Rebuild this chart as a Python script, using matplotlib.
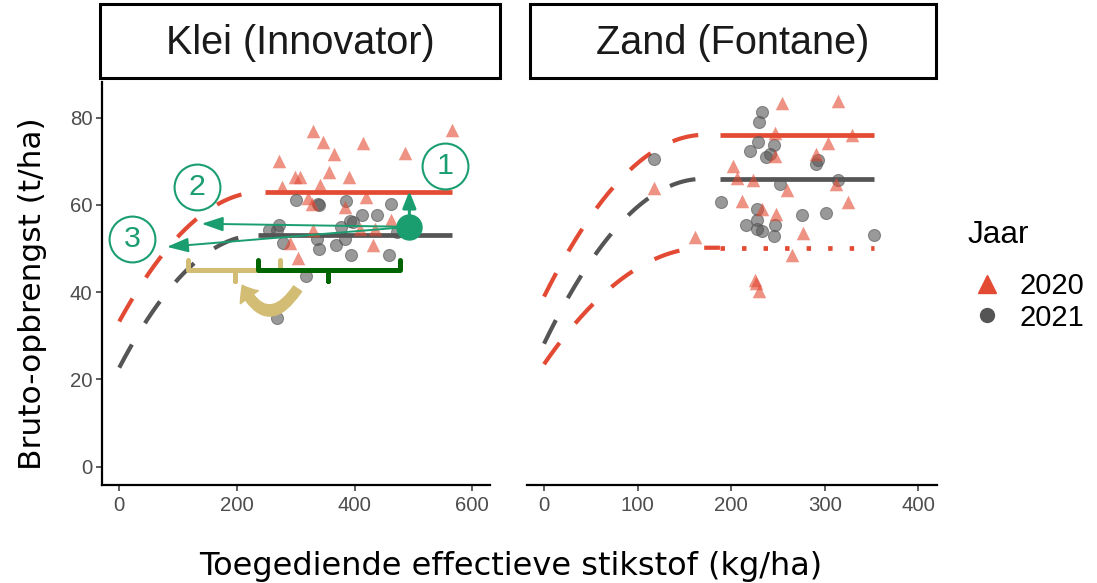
import numpy as np
import matplotlib
matplotlib.use("Agg")
import matplotlib.pyplot as plt
from matplotlib import font_manager
from matplotlib.lines import Line2D
from matplotlib.patches import Rectangle

# ---------------- data ----------------
panels = ["Klei (Innovator)", "Zand (Fontane)"]

klei_2020_x = [329, 566, 346, 415, 365, 486, 271, 357, 298, 307.5, 391, 277, 341.5, 320.5,
               327, 418.5, 383, 462, 329, 409.5, 435, 290.5, 431, 303.5]
klei_2020_y = [76.9, 77.1, 74.5, 74.3, 71.8, 72.0, 70.1, 67.6, 66.5, 66.4, 66.4, 64.1, 64.5, 61.6,
               60.3, 61.8, 59.6, 56.5, 54.2, 54.4, 54.4, 51.2, 50.9, 47.9]
klei_2021_x = [300, 337.5, 340, 385.7, 462, 412, 438, 392.5, 397, 272, 255, 377, 268, 336, 383,
               279, 368.7, 338.6, 393.7, 459, 472, 317, 268]
klei_2021_y = [61.1, 60.3, 60.0, 60.9, 60.2, 57.7, 57.7, 56.3, 56.0, 55.4, 54.2, 55.0, 54.2, 52.2, 52.2,
               51.2, 50.9, 49.9, 48.6, 48.6, 53.8, 43.7, 34.1]

zand_2020_x = [254.6, 314.4, 246.8, 328.7, 303.7, 246.8, 290.3, 202.4, 206.6, 223.7, 117.7, 259.3,
               312, 211.3, 325, 233.3, 247.6, 276.4, 161.5, 265, 225.8, 227, 229.4]
zand_2020_y = [83.3, 83.9, 76.4, 76.0, 74.2, 71.2, 71.6, 68.9, 66.3, 65.8, 63.8, 63.5,
               64.7, 60.9, 60.7, 59.0, 58.0, 53.6, 52.7, 48.5, 42.8, 42.0, 40.3]
zand_2021_x = [233, 230, 229, 246, 219.8, 237.2, 241.5, 292.4, 290.6, 118, 314.4, 252, 189.5,
               227.3, 227.3, 215.6, 246.8, 275.3, 301.3, 227.3, 233.3, 246.1, 352.8]
zand_2021_y = [81.3, 79.0, 74.5, 73.8, 72.3, 71.0, 71.8, 70.4, 69.3, 70.6, 65.8, 64.8, 60.7,
               59.0, 56.5, 55.5, 55.5, 57.6, 58.2, 54.4, 54.0, 52.8, 53.1]

# fitted quadratic-plateau response curves
fit_panel      = [0, 0, 1, 1, 1]
fit_year       = ["2020", "2021", "2020", "2021", "2020"]
fit_y0         = [33.3, 22.7, 39.0, 28.2, 23.5]      # yield at N = 0
fit_plateau    = [63.0, 53.1, 76.1, 66.0, 50.2]      # plateau yield
fit_vertex     = [242, 236, 172, 170, 172]           # N where plateau is reached
fit_solid_from = [248, 236, 188, 188, 188]
fit_end        = [565, 565, 353, 353, 353]
fit_plateau_ls = ["solid", "solid", "solid", "solid", "dotted"]

x_ticks = [[0, 200, 400, 600], [0, 100, 200, 300, 400]]
y_ticks = [0, 20, 40, 60, 80]
x_lims = [(-29.3, 630), (-18.2, 420)]
y_lim = (-4.2, 88.2)

years = ["2020", "2021"]
legend_title = "Jaar"

# annotations in the clay panel
dot_xy = (493, 55)
arrow1_tip = (493, 63.2)
arrow2_tip = (140, 55.7)
arrow3_tip = (81, 50.4)
label_pos = {"1": (553, 69.0), "2": (132, 64.1), "3": (22, 52.3)}
brace_tan = (117.5, 197, 273.5)
brace_green = (235, 354.6, 477.5)
brace_y = (47.3, 45.2, 42.6)          # hook top, bar, middle tick bottom
tan_arrow_from = (303, 40.8)
tan_arrow_to = (209, 41.6)

# ---------------- style ----------------
RED = "#E34A33"
GRAY = "#555555"
GREEN = "#1A9E70"
DKGREEN = "#006400"
TAN = "#D3BD74"

names = {f.name for f in font_manager.fontManager.ttflist}
if "Liberation Sans Narrow" in names:
    NARROW = "Liberation Sans Narrow"; k = 1.0
else:
    NARROW = "Liberation Sans"; k = 0.84

plt.rcParams["lines.scale_dashes"] = False
plt.rcParams["font.family"] = ["DejaVu Sans"]

W, H = 1097, 583
fig = plt.figure(figsize=(W / 100, H / 100), dpi=100)

def fx(px):
    return px / W

def fy(py):
    return 1 - py / H

ax_pos = [(102, 490), (527, 937)]
top_px, bot_px = 82, 485
axes = []
for i, (l, r) in enumerate(ax_pos):
    ax = fig.add_axes([fx(l), fy(bot_px), (r - l) / W, (bot_px - top_px) / H])
    axes.append(ax)

pts = [((klei_2020_x, klei_2020_y), (klei_2021_x, klei_2021_y)),
       ((zand_2020_x, zand_2020_y), (zand_2021_x, zand_2021_y))]

TICKSIZE = 17.5 * k
for i, ax in enumerate(axes):
    for j in range(len(fit_panel)):
        if fit_panel[j] != i:
            continue
        col = RED if fit_year[j] == "2020" else GRAY
        y0, P, xv = fit_y0[j], fit_plateau[j], fit_vertex[j]
        kk = (P - y0) / xv ** 2
        xs = np.linspace(0, fit_solid_from[j], 200)
        ys = np.where(xs < xv, P - kk * (xv - xs) ** 2, P)
        ax.plot(xs, ys, color=col, lw=3.0, dashes=(19, 18), solid_capstyle="butt", zorder=2)
        xp = [fit_solid_from[j], fit_end[j]]
        yp = [P, P]
        if fit_plateau_ls[j] == "solid":
            ax.plot(xp, yp, color=col, lw=3.4, solid_capstyle="butt", zorder=2)
        else:
            ax.plot(xp, yp, color=col, lw=3.4, dashes=(3.2, 12.3), zorder=2)
    (x20, y20), (x21, y21) = pts[i]
    ax.scatter(x21, y21, marker="o", s=75, color=GRAY, alpha=0.6, edgecolor=GRAY, lw=0.8, zorder=3)
    ax.scatter(x20, y20, marker="^", s=95, color=RED, alpha=0.6, lw=0, zorder=3)

    ax.set_xlim(*x_lims[i])
    ax.set_ylim(*y_lim)
    ax.set_xticks(x_ticks[i])
    ax.set_xticklabels([str(t) for t in x_ticks[i]], family=NARROW, fontsize=TICKSIZE, color="#4D4D4D")
    for s in ["top", "right"]:
        ax.spines[s].set_visible(False)
    ax.spines["bottom"].set_linewidth(1.6)
    ax.tick_params(axis="x", length=4, width=1.1, color="#333333", pad=4)
    if i == 0:
        ax.set_yticks(y_ticks)
        ax.set_yticklabels([str(t) for t in y_ticks], family=NARROW, fontsize=TICKSIZE, color="#4D4D4D")
        ax.spines["left"].set_linewidth(1.6)
        ax.tick_params(axis="y", length=4, width=1.1, color="#333333", pad=3)
    else:
        ax.spines["left"].set_visible(False)
        ax.set_yticks([])
    ax.set_facecolor("white")

# ---------------- annotations (clay panel) ----------------
ax = axes[0]
for tip in (arrow2_tip, arrow3_tip):
    ax.annotate("", xy=tip, xytext=dot_xy,
                arrowprops=dict(arrowstyle="-|>,head_length=0.65,head_width=0.22", color=GREEN,
                                lw=1.4, shrinkA=0, shrinkB=0, mutation_scale=20), zorder=6)
ax.annotate("", xy=arrow1_tip, xytext=dot_xy,
            arrowprops=dict(arrowstyle="-|>,head_length=0.5,head_width=0.2", color=GREEN,
                            lw=2.2, shrinkA=0, shrinkB=0, mutation_scale=20), zorder=6)
ax.plot(*dot_xy, marker="o", ms=18, color=GREEN, zorder=7)
for lab, (lx, ly) in label_pos.items():
    ax.plot(lx, ly, marker="o", ms=33, mfc="white", mec=GREEN, mew=1.5, zorder=6)
    ax.text(lx, ly, lab, ha="center", va="center", color=GREEN, family=NARROW,
            fontsize=26 * k, zorder=7)

for (xl, xm, xr), col in ((brace_tan, TAN), (brace_green, DKGREEN)):
    yt, yb, ym = brace_y
    ax.plot([xl, xl, xm, xm, xm, xr, xr], [yt, yb, yb, ym, yb, yb, yt], color=col, lw=3.6,
            solid_joinstyle="round", solid_capstyle="round", zorder=5)

ax.annotate("", xy=tan_arrow_to, xytext=tan_arrow_from,
            arrowprops=dict(arrowstyle="simple,head_length=1.0,head_width=1.6,tail_width=0.7",
                            color=TAN, connectionstyle="arc3,rad=-0.85", mutation_scale=10,
                            shrinkA=0, shrinkB=0), zorder=5)

# ---------------- strips ----------------
strip_px = [(100, 500), (530, 936)]
for (l, r), name in zip(strip_px, panels):
    fig.patches.append(Rectangle((fx(l), fy(78)), (r - l) / W, 74 / H, transform=fig.transFigure,
                                 facecolor="white", edgecolor="black", lw=2.2))
    fig.text(fx((l + r) / 2), fy(43), name, ha="center", va="center", family=NARROW,
             fontsize=34 * k, color="#1A1A1A")

# ---------------- axis titles ----------------
fig.text(fx(511), fy(566), "Toegediende effectieve stikstof (kg/ha)", ha="center", va="center",
         fontsize=23, color="black")
fig.text(fx(33), fy(294), "Bruto-opbrengst (t/ha)", ha="center", va="center", rotation=90,
         fontsize=22.5, color="black")

# ---------------- legend ----------------
fig.text(fx(968), fy(235), legend_title, ha="left", va="center", family=NARROW,
         fontsize=27 * k, color="black")
handles = [Line2D([], [], marker="^", ls="none", color=RED, ms=13),
           Line2D([], [], marker="o", ls="none", color=GRAY, ms=10)]
fig.legend(handles, years, loc="upper left",
           bbox_to_anchor=(fx(974), fy(272)), frameon=False,
           prop=dict(family=NARROW, size=25 * k),
           handlelength=0.9, handletextpad=0.65, labelspacing=0.12,
           borderpad=0, borderaxespad=0)

fig.savefig("out.png", dpi=100, facecolor="white")
